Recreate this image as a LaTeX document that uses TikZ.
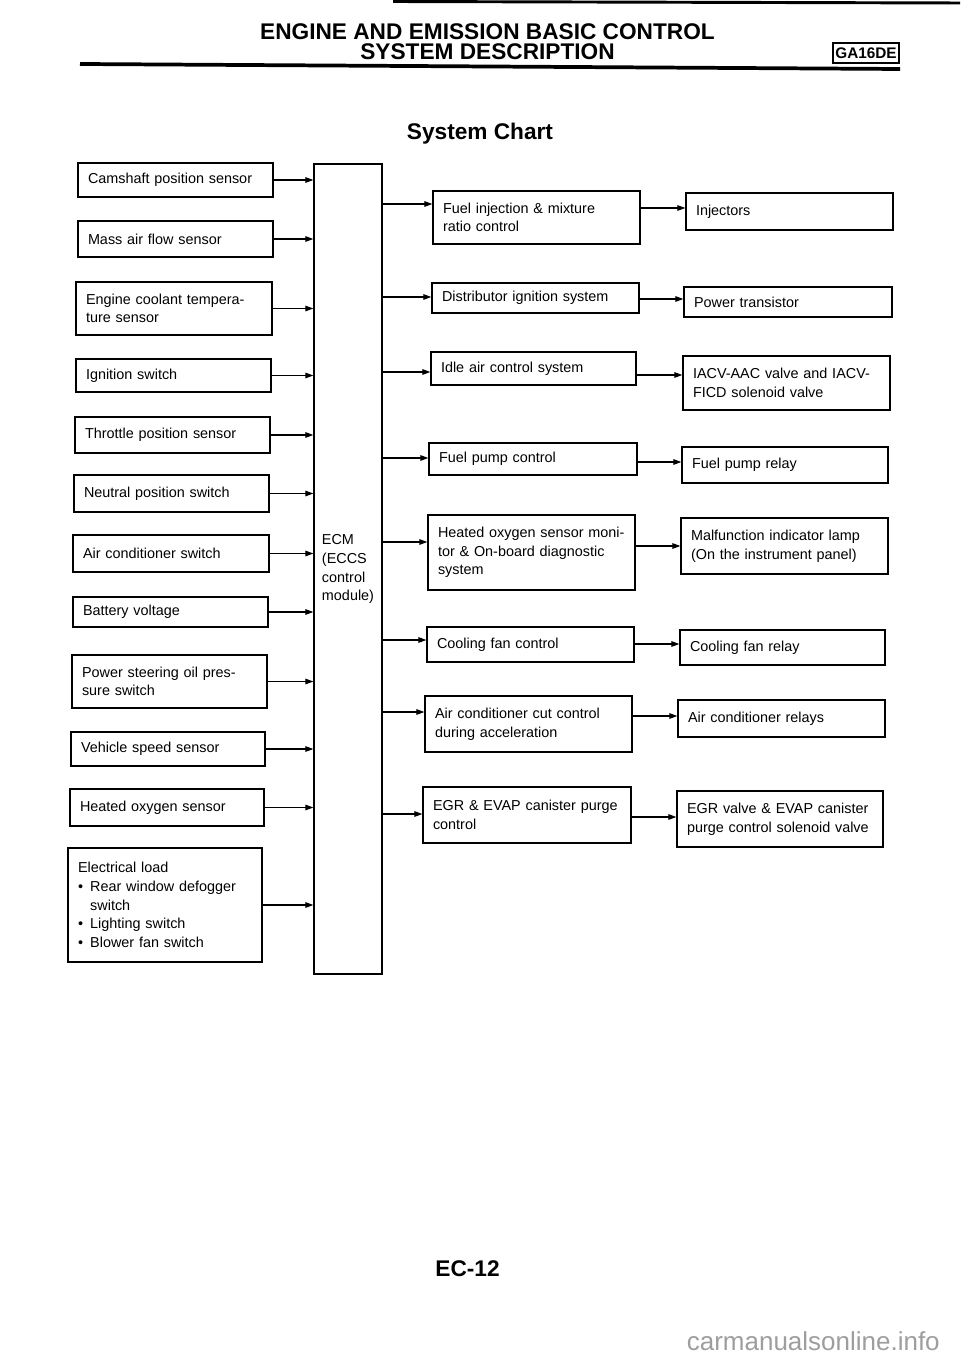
\documentclass[tikz,border=0pt]{standalone}
\usepackage{fontspec}
\setmainfont{Liberation Sans}
\usetikzlibrary{arrows.meta,calc}
\newcommand\mybox[6]{%
  \pgfmathsetmacro\mytw{(#4-#2)*0.75-15}%
  \node[boxst, minimum width={(#4-#2)*0.75pt}, minimum height={(#5-#3)*0.75pt},
        text width=\mytw pt] (#1) at ({(#2+#4)/2},{(#3+#5)/2}) {#6};}
\begin{document}
\begin{tikzpicture}[x=0.75pt,y=-0.75pt,
  boxst/.style={draw, line width=1pt, inner xsep=7.5pt, inner ysep=0pt, align=left,
    font=\fontsize{10.8}{14}\selectfont},
  arr/.style={line width=0.8pt, -{Triangle[length=6pt,width=4.2pt]}},
  headfont/.style={font=\fontsize{17}{20}\selectfont\bfseries},
  ]
\fill[white] (0,0) rectangle (960,1358);
\useasboundingbox (0,0) rectangle (960,1358);

% header
\draw[line width=2.2pt] (393,1.5) -- (960,3);
\node[headfont] (t1) at (487.5,32) {ENGINE AND EMISSION BASIC CONTROL};
\node[headfont] (t2) at (487.5,52) {SYSTEM DESCRIPTION};
\coordinate (rl) at (80,64);
\coordinate (rr) at (900,69);
\draw[line width=2.8pt] (rl) -- (rr);
\node[draw, line width=1.2pt, fill=white, minimum width=66*0.75pt, minimum height=20*0.75pt,
      inner sep=0pt, font=\fontsize{11.5}{13}\selectfont\bfseries] (ga) at (866,53) {GA16DE};
\node[headfont] (sc) at (480,134) {System Chart};

% ECM
\node[draw, line width=1pt, minimum width=68*0.75pt, minimum height=810*0.75pt, inner sep=0pt,
      align=left, font=\fontsize{10.8}{14.2}\selectfont] (ecm) at (348,569)
      {ECM\\(ECCS\\control\\module)};

% inputs
\mybox{cam}{78}{163}{273}{197}{Camshaft position sensor}
\mybox{maf}{78}{221}{273}{257}{Mass air flow sensor}
\mybox{ect}{76}{282}{272}{335}{Engine coolant tempera-\\ture sensor}
\mybox{ign}{76}{359}{271}{392}{Ignition switch}
\mybox{tps}{75}{417}{270}{453}{Throttle position sensor}
\mybox{nps}{74}{475}{269}{512}{Neutral position switch}
\mybox{acs}{73}{535}{269}{572}{Air conditioner switch}
\mybox{bat}{73}{597}{268}{627}{Battery voltage}
\mybox{pso}{72}{655}{267}{708}{Power steering oil pres-\\sure switch}
\mybox{vss}{71}{732}{265}{766}{Vehicle speed sensor}
\mybox{hos}{70}{789}{264}{826}{Heated oxygen sensor}
\mybox{ele}{68}{848}{262}{962}{Electrical load\\
  \makebox[0.85em][l]{\textbullet}Rear window defogger\\
  \hspace*{0.85em}switch\\
  \makebox[0.85em][l]{\textbullet}Lighting switch\\
  \makebox[0.85em][l]{\textbullet}Blower fan switch}

\foreach \n in {cam,maf,ect,ign,tps,nps,acs,bat,pso,vss,hos,ele}
  \draw[arr] (\n.east) -- (\n.east -| ecm.west);

% control functions
\mybox{m1}{433}{191}{640}{244}{Fuel injection \& mixture\\ratio control}
\mybox{m2}{432}{283}{639}{313}{Distributor ignition system}
\mybox{m3}{431}{352}{636}{385}{Idle air control system}
\mybox{m4}{429}{443}{637}{475}{Fuel pump control}
\mybox{m5}{428}{515}{635}{590}{Heated oxygen sensor moni-\\tor \& On-board diagnostic\\system}
\mybox{m6}{427}{627}{634}{662}{Cooling fan control}
\mybox{m7}{425}{696}{632}{752}{Air conditioner cut control\\during acceleration}
\mybox{m8}{423}{787}{631}{843}{EGR \& EVAP canister purge\\control}

% actuators
\mybox{r1}{686}{193}{893}{230}{Injectors}
\mybox{r2}{684}{287}{892}{317}{Power transistor}
\mybox{r3}{683}{356}{890}{410}{IACV-AAC valve and IACV-\\FICD solenoid valve}
\mybox{r4}{682}{447}{888}{483}{Fuel pump relay}
\mybox{r5}{681}{518}{888}{574}{Malfunction indicator lamp\\(On the instrument panel)}
\mybox{r6}{680}{630}{885}{665}{Cooling fan relay}
\mybox{r7}{678}{700}{885}{737}{Air conditioner relays}
\mybox{r8}{677}{791}{883}{847}{EGR valve \& EVAP canister\\purge control solenoid valve}

\foreach \k/\yi/\yo in {1/204/208, 2/297/299, 3/372/375, 4/458/462, 5/542/546, 6/640/644, 7/712/716, 8/814/817}{
  \coordinate (i\k) at (0,\yi);
  \coordinate (o\k) at (0,\yo);
  \draw[arr] (i\k -| ecm.east) -- (i\k -| m\k.west);
  \draw[arr] (o\k -| m\k.east) -- (o\k -| r\k.west);
}

% footer
\node[headfont] (pg) at (467.5,1269) {EC-12};
\node[anchor=base east, text=black!38, font=\fontsize{19.5}{22}\selectfont, inner sep=0pt] (wm) at (940,1350) {carmanualsonline.info};
\end{tikzpicture}
\end{document}
